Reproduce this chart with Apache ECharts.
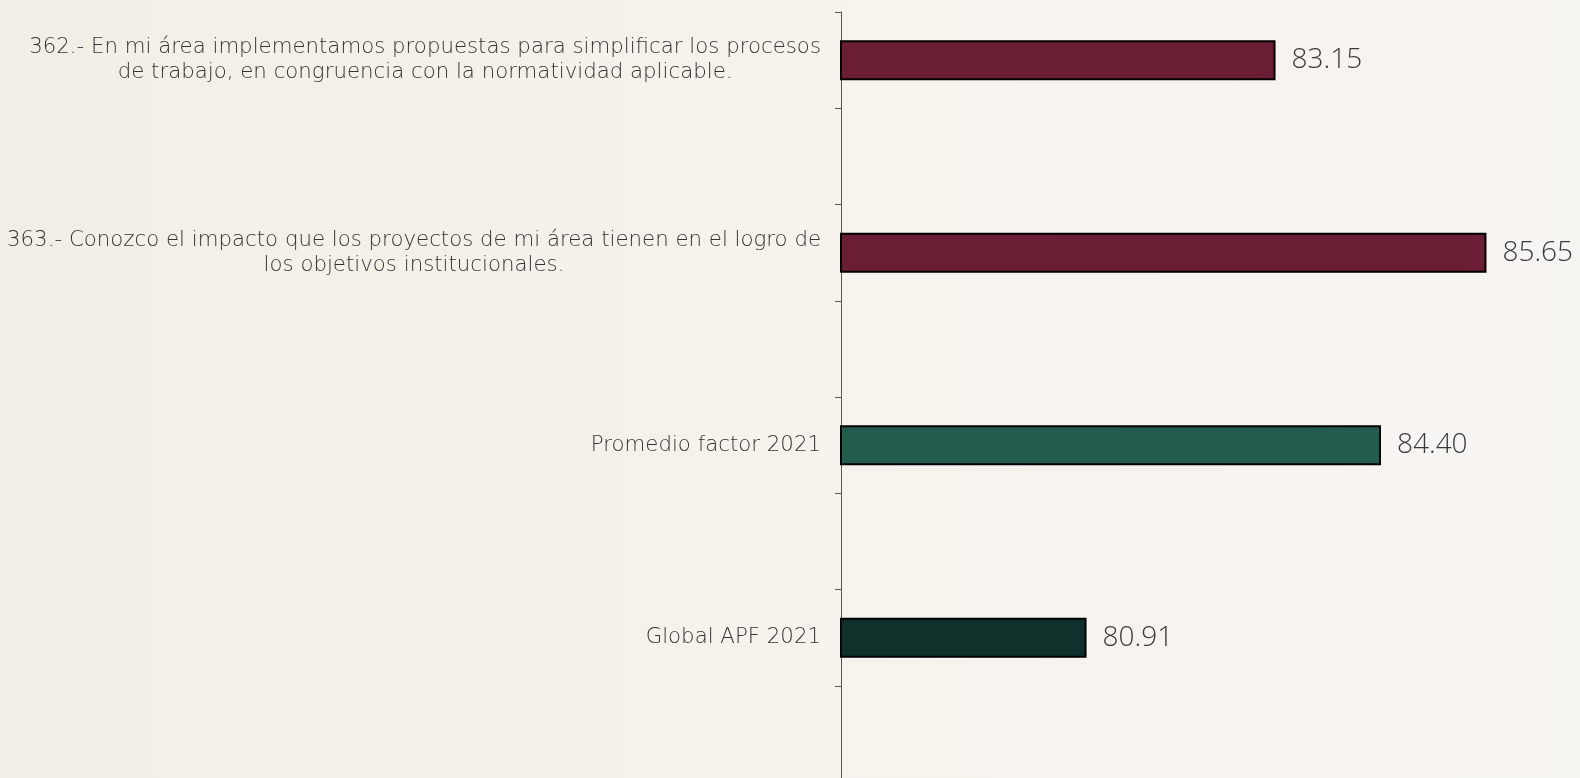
<!DOCTYPE html>
<html>
<head>
<meta charset="utf-8">
<script src="https://cdn.jsdelivr.net/npm/echarts@6/dist/echarts.min.js"></script>
<style>
html,body{margin:0;padding:0;background:#F6F3EE;}
#c{width:1580px;height:778px;}
</style>
</head>
<body>
<div id="c"></div>
<script>
const categories = [
  '362.- En mi área implementamos propuestas para simplificar los procesos\nde trabajo, en congruencia con la normatividad aplicable.',
  '363.- Conozco el impacto que los proyectos de mi área tienen en el logro de\nlos objetivos institucionales.',
  'Promedio factor 2021',
  'Global APF 2021'
];
const values = [83.15, 85.65, 84.40, 80.91];
const barColors = ['#6A1D33', '#6A1D33', '#235B4E', '#10302B'];

// each category is followed by an empty spacer slot
const slotLabels = [];
const slotData = [];
categories.forEach((c, i) => {
  slotLabels.push(c);
  slotData.push({ value: values[i], itemStyle: { color: barColors[i] } });
  slotLabels.push('');
  slotData.push(null);
});

const CAT_FONT = '"DejaVu Sans", sans-serif';
const VAL_FONT = '"Open Sans", Lato, sans-serif';
const chart = echarts.init(document.getElementById('c'), null, { renderer: 'canvas' });
chart.setOption({
  backgroundColor: {
    type: 'linear', x: 0, y: 0, x2: 1, y2: 0,
    colorStops: [{ offset: 0, color: '#F3EEE5' }, { offset: 0.5, color: '#F6F2EC' }, { offset: 1, color: '#F7F5F2' }]
  },
  animation: false,
  grid: { left: 841, right: 64, top: 12, bottom: -4, containLabel: false, outerBoundsMode: 'none' },
  xAxis: { type: 'value', min: 78, max: 86, show: false },
  yAxis: {
    type: 'category',
    inverse: true,
    data: slotLabels,
    axisLine: { show: true, lineStyle: { color: '#555555', width: 1 } },
    axisTick: { show: true, length: 6, lineStyle: { color: '#555555', width: 1 } },
    axisLabel: {
      margin: 20,
      interval: 0,
      formatter: function (v) {
        if (!v) return '';
        return v.split('\n').map(s => '{c|' + s + '}').join('\n');
      },
      rich: {
        c: { align: 'center', fontSize: 21.3, lineHeight: 25, color: '#333333', fontFamily: CAT_FONT, fontWeight: 200 }
      }
    },
    splitLine: { show: false }
  },
  series: [{
    type: 'bar',
    data: slotData,
    barWidth: 40,
    itemStyle: { borderColor: '#000000', borderWidth: 2 },
    label: {
      show: true,
      position: 'right',
      distance: 16,
      padding: [5, 0, 0, 0],
      formatter: p => p.value.toFixed(2),
      fontSize: 28,
      color: '#3A3A3A',
      fontFamily: VAL_FONT,
      fontWeight: 300
    }
  }]
});
</script>
</body>
</html>
